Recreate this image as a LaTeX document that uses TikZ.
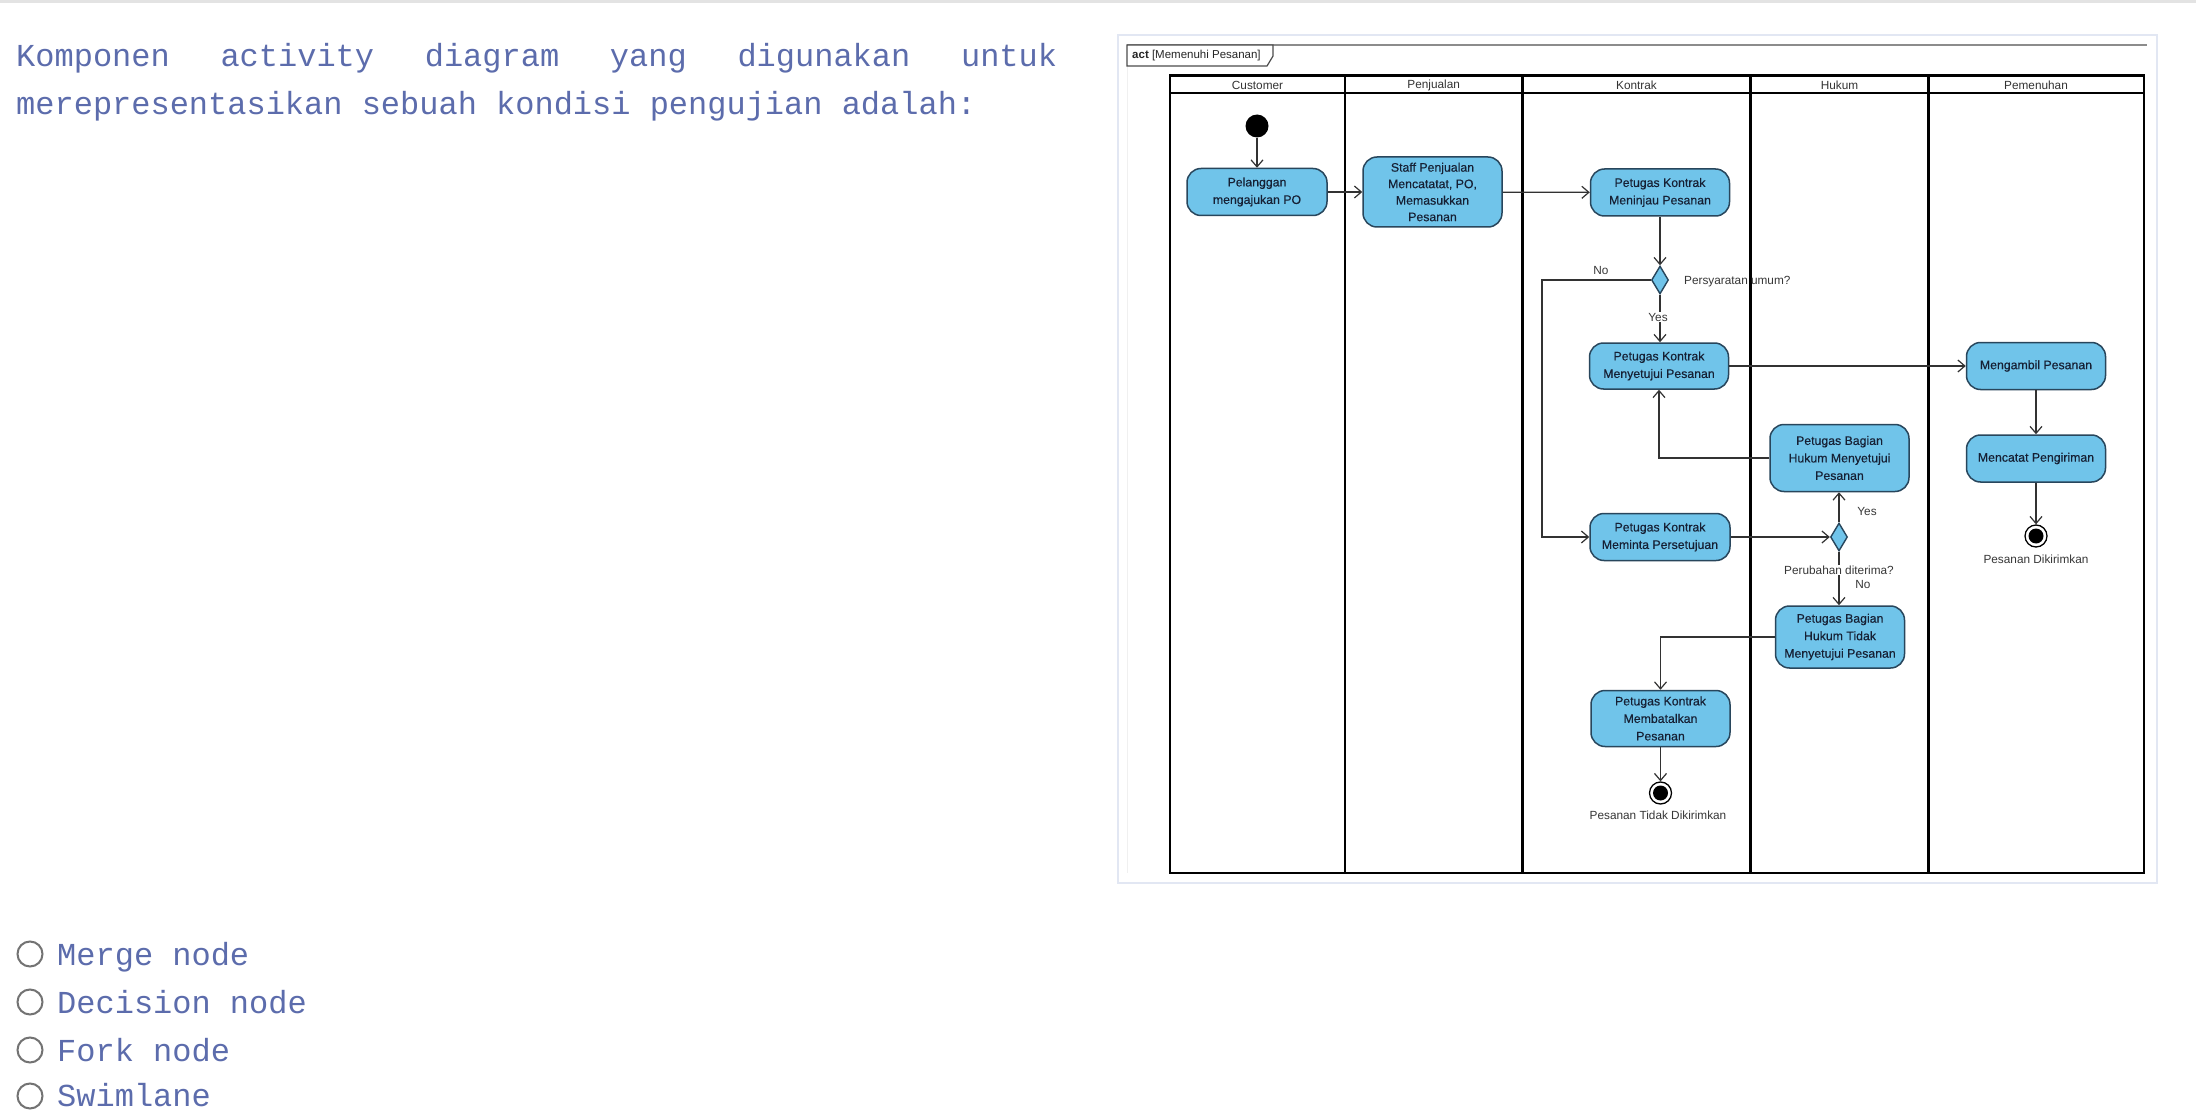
\documentclass[tikz,border=0pt]{standalone}
\usepackage{fontspec}
\setmainfont{Liberation Sans}
\newfontfamily\qmono{Liberation Mono}
\newfontfamily\nodesans[FakeBold=0.35]{Liberation Sans}
\usetikzlibrary{arrows.meta,shapes.geometric}
\definecolor{nodefill}{RGB}{112,196,234}
\definecolor{nodeborder}{RGB}{40,70,92}
\definecolor{nodetext}{RGB}{22,32,52}
\definecolor{linecol}{RGB}{50,50,50}
\definecolor{qtext}{RGB}{92,108,172}
\definecolor{lbltext}{RGB}{55,55,55}
\definecolor{outerframe}{RGB}{226,231,243}
\tikzset{
  act/.style={rectangle, rounded corners=14pt, draw=nodeborder, line width=1.5pt,
    fill=nodefill, align=center, text=nodetext, inner sep=0pt,
    font=\nodesans\fontsize{12.3}{17.5}\selectfont},
  decis/.style={diamond, draw=nodeborder, line width=1.4pt, fill=nodefill,
    minimum width=17pt, minimum height=28pt, inner sep=0pt},
  initnode/.style={circle, fill=black, minimum size=23pt, inner sep=0pt},
  finalnode/.style={circle, draw=black, line width=1.3pt, fill=white,
    minimum size=22pt, inner sep=0pt,
    path picture={\fill[black] (path picture bounding box.center) circle (7.5pt);}},
  flow/.style={-{Straight Barb[length=7pt,width=12pt]}, line width=1.2pt, draw=linecol},
  lbl/.style={font=\fontsize{11.8}{13}\selectfont, text=lbltext, inner sep=1pt},
  lanehead/.style={font=\fontsize{11.8}{13}\selectfont, text=black!80, inner sep=0pt},
  lane/.style={line width=2.4pt, draw=black},
  qline/.style={font=\qmono\fontsize{32}{40}\selectfont, text=qtext, inner sep=0pt, anchor=base west},
  radio/.style={circle, draw=black!55, line width=2pt, minimum size=25pt, inner sep=0pt}
}
\begin{document}
\begin{tikzpicture}[x=1pt,y=-1pt]
\useasboundingbox (0,0) rectangle (2196,1110);
\clip (0,0) rectangle (2196,1110);
\fill[white] (0,0) rectangle (2196,1110);
\fill[black!11] (0,0) rectangle (2196,3);

% question text
\node[qline] (q1) at (16,67) {\hbox to 1041pt{Komponen\hfill activity\hfill diagram\hfill yang\hfill digunakan\hfill untuk}};
\node[qline] (q2) at (16,115) {merepresentasikan sebuah kondisi pengujian adalah:};

% options
\node[radio] (r1) at (30,954) {};
\node[qline] (o1) at (57,965) {Merge node};
\node[radio] (r2) at (30,1002) {};
\node[qline] (o2) at (57,1013) {Decision node};
\node[radio] (r3) at (30,1050) {};
\node[qline] (o3) at (57,1061) {Fork node};
\node[radio] (r4) at (30,1096) {};
\node[qline] (o4) at (57,1106) {Swimlane};

% image frame
\draw[outerframe, line width=2pt] (1117.5,35.5) rectangle (2156.5,882.5);
\draw[black!6, line width=1pt] (1127,45) -- (1127,873);
\draw[black!45, line width=1.2pt] (1127,45) -- (2147,45);
\draw[black!70, line width=1.2pt, fill=white] (1127,45) -- (1273,45) -- (1273,56) -- (1267,66) -- (1127,66) -- cycle;
\node[anchor=west, font=\fontsize{11.5}{13}\selectfont, text=black!85, inner sep=0pt] (tab) at (1132,56) {\textbf{act} [Memenuhi Pesanan]};

% swimlanes
\draw[lane] (1170,75.7) rectangle (2144,873);
\draw[lane] (1170,93) -- (2144,93);
\draw[lane] (1345,75.7) -- (1345,873);
\draw[lane] (1522.5,75.7) -- (1522.5,873);
\draw[lane] (1750.5,75.7) -- (1750.5,873);
\draw[lane] (1928.5,75.7) -- (1928.5,873);
\node[lanehead] (h1) at (1257.5,85) {Customer};
\node[lanehead] (h2) at (1433.7,85) {Penjualan};
\node[lanehead] (h3) at (1636.5,85) {Kontrak};
\node[lanehead] (h4) at (1839.5,85) {Hukum};
\node[lanehead] (h5) at (2036,85) {Pemenuhan};

% nodes
\node[initnode] (init) at (1257,126) {};
\node[act, minimum width=140pt, minimum height=47pt] (pel) at (1257,192) {Pelanggan\\mengajukan PO};
\node[act, minimum width=139pt, minimum height=70pt, font=\nodesans\fontsize{12.3}{16.5}\selectfont] (staff) at (1432.5,192) {Staff Penjualan\\Mencatatat, PO,\\Memasukkan\\Pesanan};
\node[act, minimum width=139pt, minimum height=47pt] (men) at (1660,192.5) {Petugas Kontrak\\Meninjau Pesanan};
\node[decis] (d1) at (1660,280) {};
\node[act, minimum width=139pt, minimum height=46pt] (setK) at (1659,366) {Petugas Kontrak\\Menyetujui Pesanan};
\node[act, minimum width=139pt, minimum height=47pt] (ambil) at (2036,366) {Mengambil Pesanan};
\node[act, minimum width=139pt, minimum height=47pt] (catat) at (2036,458.5) {Mencatat Pengiriman};
\node[finalnode] (fin1) at (2036,536) {};
\node[act, minimum width=139pt, minimum height=67pt] (hukY) at (1839.5,458) {Petugas Bagian\\Hukum Menyetujui\\Pesanan};
\node[act, minimum width=140pt, minimum height=47pt] (minta) at (1660,537) {Petugas Kontrak\\Meminta Persetujuan};
\node[decis] (d2) at (1839,537) {};
\node[act, minimum width=129pt, minimum height=62pt] (hukN) at (1840,637) {Petugas Bagian\\Hukum Tidak\\Menyetujui Pesanan};
\node[act, minimum width=139pt, minimum height=56pt] (batal) at (1660.5,718.5) {Petugas Kontrak\\Membatalkan\\Pesanan};
\node[finalnode] (fin2) at (1660.5,793) {};
\coordinate (noc) at (1542,280);

% connectors
\draw[flow] (init) -- (pel);
\draw[flow] (pel) -- (staff);
\draw[flow] (staff) -- (men);
\draw[flow] (men) -- (d1);
\draw[flow] (d1) -- (d1 |- setK.north);
\draw[flow] (d1.west) -- (noc) |- (minta.west);
\draw[flow] (setK) -- (ambil);
\draw[flow] (ambil) -- (catat);
\draw[flow] (catat) -- (fin1);
\draw[flow] (minta) -- (d2);
\draw[flow] (d2) -- (d2 |- hukY.south);
\draw[flow] (hukY.west) -| (setK.south);
\draw[flow] (d2) -- (d2 |- hukN.north);
\draw[flow] (hukN.west) -| (batal.north);
\draw[flow] (batal) -- (fin2);

% labels
\node[lbl] (noA) at (1601,270) {No};
\node[lbl, fill=white] (yesA) at (1658,317) {Yes};
\node[lbl, anchor=west] (pers) at (1683,282) {Persyaratan umum?};
\node[lbl] (yesB) at (1867,511) {Yes};
\node[lbl, fill=white] (perub) at (1839,570) {Perubahan diterima?};
\node[lbl] (noB) at (1863,584) {No};
\node[lbl] (kirim) at (2036,559) {Pesanan Dikirimkan};
\node[lbl] (tidak) at (1658,815) {Pesanan Tidak Dikirimkan};
\end{tikzpicture}
\end{document}
